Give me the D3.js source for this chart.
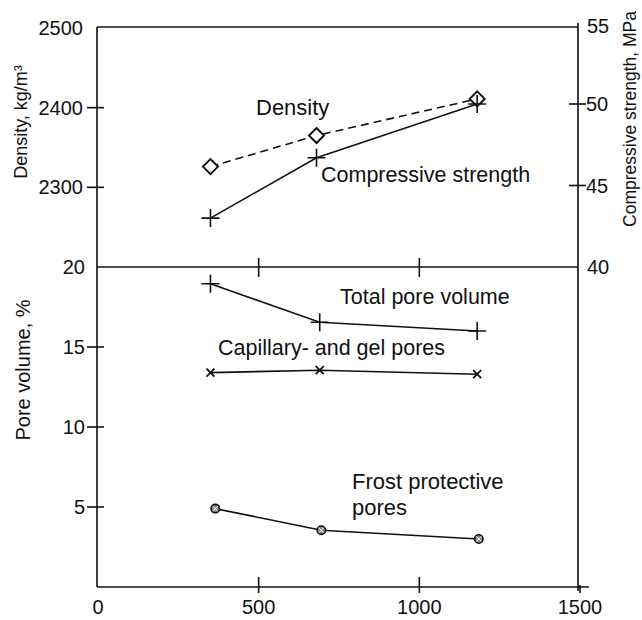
<!DOCTYPE html>
<html><head><meta charset="utf-8">
<script src="https://cdn.jsdelivr.net/npm/d3@7"></script>
<style>body{margin:0;background:#fff}text{font-family:"Liberation Sans",Arial,sans-serif;fill:#111}</style>
</head><body><svg id="c" width="642" height="620"></svg>
<script>
// data
const densityX = [350, 680, 1180];
const densityY = [2326, 2365, 2411];
const strengthX = [350, 680, 1180];
const strengthY = [43.0, 46.7, 50.0];
const totalPoreX = [350, 690, 1180];
const totalPoreY = [18.95, 16.55, 16.0];
const capillaryX = [350, 690, 1180];
const capillaryY = [13.4, 13.55, 13.3];
const frostX = [365, 695, 1185];
const frostY = [4.9, 3.55, 3.0];
const xTicks = [0, 500, 1000, 1500];
const densityTicks = [2300, 2400, 2500];
const strengthTicks = [45, 50, 55];
const poreTicks = [5, 10, 15, 20];

const svg = d3.select("#c");
const L = 97, R = 578, T = 27, MID = 267, B = 587;
const x = d3.scaleLinear().domain([0, 1500]).range([98, 580]);
const yD = d3.scaleLinear().domain([2200, 2500]).range([MID, T + 1]);
const yS = d3.scaleLinear().domain([40, 50]).range([MID, 104]);
const yP = d3.scaleLinear().domain([0, 20]).range([B, MID]);
const ink = "#111";

const g = svg.append("g").attr("stroke", ink).attr("stroke-width", 1.6).attr("fill", "none");
// frame
g.append("line").attr("x1", L).attr("x2", L).attr("y1", T).attr("y2", B);
g.append("line").attr("x1", R).attr("x2", R).attr("y1", 23).attr("y2", B + 4);
g.append("line").attr("x1", L).attr("x2", R).attr("y1", T).attr("y2", T);
g.append("line").attr("x1", L).attr("x2", R).attr("y1", MID).attr("y2", MID);
g.append("line").attr("x1", L).attr("x2", 589).attr("y1", B).attr("y2", B);

// x ticks on divider and bottom
[500, 1000].forEach(v => {
  g.append("line").attr("x1", x(v)).attr("x2", x(v)).attr("y1", MID - 9).attr("y2", MID + 10);
});
[500, 1000].forEach(v => {
  g.append("line").attr("x1", x(v)).attr("x2", x(v)).attr("y1", B - 10).attr("y2", B + 6);
});
g.append("line").attr("x1", x(1500)).attr("x2", x(1500)).attr("y1", B - 2).attr("y2", B + 6);

// left ticks
densityTicks.filter(v => v < 2500).forEach(v => {
  g.append("line").attr("x1", L - 10).attr("x2", L + 7).attr("y1", yD(v)).attr("y2", yD(v));
});
poreTicks.filter(v => v < 20).forEach(v => {
  g.append("line").attr("x1", L - 10).attr("x2", L + 7).attr("y1", yP(v)).attr("y2", yP(v));
});
// right ticks
strengthTicks.filter(v => v < 55).forEach(v => {
  g.append("line").attr("x1", R - 9).attr("x2", R + 8).attr("y1", yS(v)).attr("y2", yS(v));
});

const txt = (t, xx, yy, anchor, fs) => svg.append("text").attr("x", xx).attr("y", yy).attr("text-anchor", anchor || "start").attr("font-size", fs || 20).text(t);

// tick labels
densityTicks.forEach(v => txt(v, 83, yD(v) + 7, "end", 20));
txt("20", 85, yP(20) + 7, "end", 20);
poreTicks.filter(v => v < 20).forEach(v => txt(v, 85, yP(v) + 7, "end", 20));
txt("55", 587, 33, "start", 20);
strengthTicks.filter(v => v < 55).forEach(v => txt(v, 586, yS(v) + 7, "start", 20));
txt("40", 587, MID + 7, "start", 20);
xTicks.forEach(v => txt(v, x(v), 614, "middle", 20));

// axis titles
svg.append("text").attr("transform", "translate(27,122) rotate(-90)").attr("text-anchor", "middle").attr("font-size", 18).text("Density, kg/m³");
svg.append("text").attr("transform", "translate(30,370) rotate(-90)").attr("text-anchor", "middle").attr("font-size", 20).text("Pore volume, %");
svg.append("text").attr("transform", "translate(636,119) rotate(-90)").attr("text-anchor", "middle").attr("font-size", 17.5).text("Compressive strength, MPa");

// series
const line = d3.line();
function series(xs, ys, yScale, dashed) {
  const pts = xs.map((v, i) => [x(v), yScale(ys[i])]);
  g.append("path").attr("d", line(pts)).attr("stroke-width", 1.6).attr("stroke-dasharray", dashed ? "8,5" : null);
  return pts;
}
const dPts = series(densityX, densityY, yD, true);
const sPts = series(strengthX, strengthY, yS, false);
const tPts = series(totalPoreX, totalPoreY, yP, false);
const cPts = series(capillaryX, capillaryY, yP, false);
const fPts = series(frostX, frostY, yP, false);

dPts.forEach(p => {
  const s = 7.5;
  g.append("path").attr("d", `M${p[0]},${p[1]-s}L${p[0]+s},${p[1]}L${p[0]},${p[1]+s}L${p[0]-s},${p[1]}Z`).attr("fill", "#fff").attr("stroke-width", 2);
});
function plus(p, s) {
  g.append("path").attr("d", `M${p[0]-s},${p[1]}H${p[0]+s}M${p[0]},${p[1]-s}V${p[1]+s}`).attr("stroke-width", 1.6);
}
sPts.forEach(p => plus(p, 9));
tPts.forEach(p => plus(p, 9));
cPts.forEach(p => {
  const s = 4;
  g.append("path").attr("d", `M${p[0]-s},${p[1]-s}L${p[0]+s},${p[1]+s}M${p[0]-s},${p[1]+s}L${p[0]+s},${p[1]-s}`).attr("stroke-width", 1.8);
});
fPts.forEach(p => {
  g.append("circle").attr("cx", p[0]).attr("cy", p[1]).attr("r", 4.2).attr("fill", "#888").attr("stroke-width", 1.6);
  g.append("path").attr("d", `M${p[0]-2.5},${p[1]-2.5}L${p[0]+2.5},${p[1]+2.5}M${p[0]-2.5},${p[1]+2.5}L${p[0]+2.5},${p[1]-2.5}`).attr("stroke", "#fff").attr("stroke-width", 1);
});

// labels
txt("Density", 256, 115, "start", 22);
txt("Compressive strength", 321, 182, "start", 21.5);
txt("Total pore volume", 340, 304, "start", 21.5);
txt("Capillary- and gel pores", 218, 355, "start", 21.5);
txt("Frost protective", 352, 489, "start", 22);
txt("pores", 352, 515, "start", 22);
</script></body></html>
